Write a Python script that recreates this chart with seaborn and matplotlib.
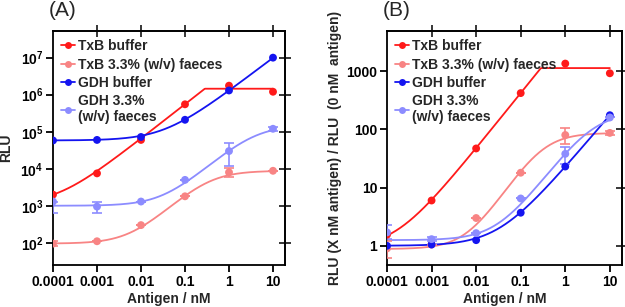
import numpy as np
import pandas as pd
import matplotlib
matplotlib.use("Agg")
import matplotlib.pyplot as plt
import seaborn as sns
from matplotlib.lines import Line2D
from matplotlib.ticker import FixedLocator, FuncFormatter, NullLocator

# ---------------- data ----------------
conc = [0.0001, 0.001, 0.01, 0.1, 1, 10]
conc_labels = ["0.0001", "0.001", "0.01", "0.1", "1", "10"]
series_names = ["TxB buffer", "TxB 3.3% (w/v) faeces", "GDH buffer", "GDH 3.3%\n(w/v) faeces"]
colors = ["#ff1a1a", "#f88484", "#1414f0", "#8c8cff"]

# Panel A: RLU
a_txb_buf = [2000, 7500, 60000, 550000, 1750000, 1200000]
a_txb_fae = [95, 110, 300, 1800, 8000, 8800]
a_gdh_buf = [58000, 60000, 72000, 210000, 1300000, 10000000]
a_gdh_fae = [1300, 950, 1300, 5000, 30000, 120000]
a_txb_fae_lo = [80, 110, 300, 1800, 6000, 8800]
a_txb_fae_hi = [115, 110, 300, 1800, 10500, 8800]
a_gdh_fae_lo = [650, 620, 1300, 5000, 12000, 105000]
a_gdh_fae_hi = [1300, 1300, 1300, 5000, 50000, 130000]

# Panel B: normalised RLU
b_txb_buf = [1.55, 6.0, 47, 420, 1350, 920]
b_txb_fae = [0.9, 1.05, 3.0, 18, 80, 87]
b_gdh_buf = [1.0, 1.05, 1.25, 3.7, 23, 175]
b_gdh_fae = [1.7, 1.3, 1.65, 6.5, 38, 160]
b_txb_fae_lo = [0.62, 1.05, 3.0, 18, 55, 80]
b_txb_fae_hi = [1.2, 1.05, 3.0, 18, 105, 95]
b_gdh_fae_lo = [1.3, 1.2, 1.65, 6.5, 25, 160]
b_gdh_fae_hi = [2.25, 1.4, 1.65, 6.5, 50, 160]

# fitted-curve parameters: y = bottom + k x^h / (1 + k x^h / span), capped at 'cap'
a_fit_bottom = [1100, 95, 58000, 1000]
a_fit_k = [4.7e6, 27600, 1.24e6, 36700]
a_fit_h = [0.93, 1.1, 0.9, 1.05]
a_fit_span = [np.inf, 8705, np.inf, 149000]
a_fit_cap = [1.45e6, np.inf, np.inf, np.inf]

b_fit_bottom = [0.9, 0.88, 1.0, 1.25]
b_fit_k = [3740, 364, 22, 45.3]
b_fit_h = [0.95, 1.2, 0.9, 1.05]
b_fit_span = [np.inf, 86, np.inf, 199]
b_fit_cap = [1130, np.inf, np.inf, np.inf]

a_yticks = [1e2, 1e3, 1e4, 1e5, 1e6, 1e7]
b_yticks = [1, 10, 100, 1000]
b_ytick_labels = ["1", "10", "100", "1000"]

# ---------------- style ----------------
sns.set_theme(style="ticks")
plt.rcParams["font.family"] = ["Liberation Sans", "DejaVu Sans"]
plt.rcParams["font.weight"] = "bold"
plt.rcParams["axes.labelweight"] = "bold"
plt.rcParams["axes.linewidth"] = 1.3

W, H = 625, 307
fig = plt.figure(figsize=(W / 100, H / 100), dpi=100)
axA = fig.add_axes([53 / W, 1 - 265 / H, 232 / W, 234 / H])
axB = fig.add_axes([387 / W, 1 - 265 / H, 235 / W, 234 / H])


def model(x, bottom, k, h, span, cap):
    p = k * x ** h
    y = bottom + p / (1 + p / span)
    return np.minimum(y, cap)


def draw(ax, vals, los, his, fits):
    bottoms, ks, hs, spans, caps = fits
    xc = np.logspace(-4, 1, 300)
    for i, (v, c) in enumerate(zip(vals, colors)):
        yc = model(xc, bottoms[i], ks[i], hs[i], spans[i], caps[i])
        sns.lineplot(x=xc, y=yc, color=c, lw=1.3, ax=ax, zorder=2)
        if los[i] is not None:
            v_arr = np.array(v, float)
            yerr = [v_arr - np.array(los[i]), np.array(his[i]) - v_arr]
            ax.errorbar(conc, v_arr, yerr=yerr, fmt="none", ecolor=c,
                        elinewidth=1.2, capsize=3.5, capthick=1.2, zorder=3)
        sns.scatterplot(x=conc, y=v, color=c, s=32, edgecolor="none", ax=ax, zorder=4)


def frame(ax, ylim, yticks):
    ax.set_xscale("log")
    ax.set_yscale("log")
    ax.set_xlim(1e-4, 10 ** (1 + 12 / 44))
    ax.set_ylim(*ylim)
    ax.xaxis.set_major_locator(FixedLocator(conc))
    ax.xaxis.set_minor_locator(NullLocator())
    ax.set_xticklabels(conc_labels)
    ax.yaxis.set_major_locator(FixedLocator(yticks))
    ax.yaxis.set_minor_locator(NullLocator())
    for s in ax.spines.values():
        s.set_visible(True)
        s.set_color("black")
        s.set_linewidth(1.3)
    ax.tick_params(axis="both", which="major", direction="out", length=5, width=1.3,
                   labelsize=10, colors="black", pad=2)
    for lab in ax.get_xticklabels() + ax.get_yticklabels():
        lab.set_fontweight("bold")
    sx = ax.secondary_xaxis("top")
    sx.xaxis.set_major_locator(FixedLocator(conc[1:]))
    sx.xaxis.set_minor_locator(NullLocator())
    sx.tick_params(direction="inout", length=9, width=1.3, labeltop=False)
    sy = ax.secondary_yaxis("right")
    sy.yaxis.set_major_locator(FixedLocator(yticks))
    sy.yaxis.set_minor_locator(NullLocator())
    sy.tick_params(direction="inout", length=9, width=1.3, labelright=False)
    ax.set_xlabel("Antigen / nM", fontsize=10, fontweight="bold", labelpad=2)
    handles = [Line2D([], [], color=c, marker="o", markersize=5, lw=1.3,
                      markeredgecolor="none") for c in colors]
    ax.legend(handles, series_names, loc="upper left", bbox_to_anchor=(0, 1),
              frameon=False, handlelength=1.0, handletextpad=0.2,
              labelspacing=0.3, borderaxespad=0.3, borderpad=0.3,
              prop={"weight": "bold", "size": 10})


draw(axA, [a_txb_buf, a_txb_fae, a_gdh_buf, a_gdh_fae],
     [None, a_txb_fae_lo, None, a_gdh_fae_lo],
     [None, a_txb_fae_hi, None, a_gdh_fae_hi],
     [a_fit_bottom, a_fit_k, a_fit_h, a_fit_span, a_fit_cap])
frame(axA, (10 ** 1.4, 10 ** 7.72), a_yticks)
axA.yaxis.set_major_formatter(FuncFormatter(lambda v, p: r"$\mathregular{10^{%d}}$" % round(np.log10(v))))
for lab in axA.get_yticklabels():
    lab.set_fontweight("bold")
axA.set_ylabel("RLU", fontsize=10, fontweight="bold", labelpad=5)

draw(axB, [b_txb_buf, b_txb_fae, b_gdh_buf, b_gdh_fae],
     [None, b_txb_fae_lo, None, b_gdh_fae_lo],
     [None, b_txb_fae_hi, None, b_gdh_fae_hi],
     [b_fit_bottom, b_fit_k, b_fit_h, b_fit_span, b_fit_cap])
frame(axB, (10 ** -0.33, 10 ** 3.69), b_yticks)
axB.set_yticklabels(b_ytick_labels)
for lab in axB.get_yticklabels():
    lab.set_fontweight("bold")
axB.set_ylabel("RLU (X nM antigen) / RLU  (0 nM  antigen)", fontsize=10,
               fontweight="bold", labelpad=3)

fig.text(63 / W, 1 - 1 / H, "(A)", fontsize=15, fontweight="normal", ha="center", va="top")
fig.text(397 / W, 1 - 1 / H, "(B)", fontsize=15, fontweight="normal", ha="center", va="top")

fig.savefig("out.png", dpi=100)
